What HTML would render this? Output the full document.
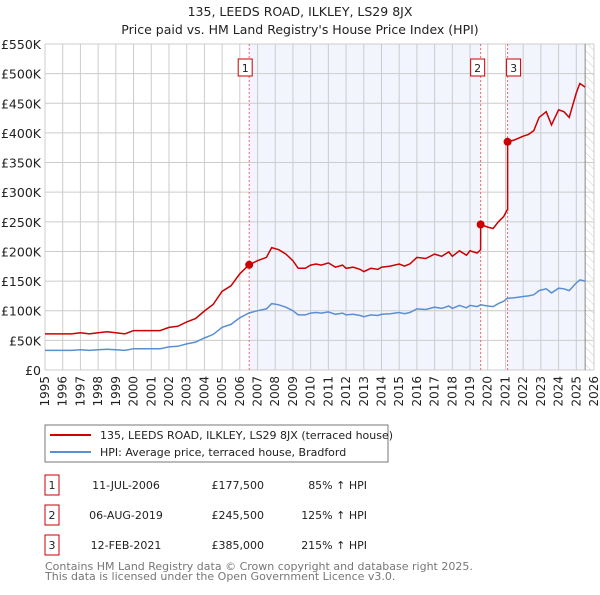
<!DOCTYPE html>
<html><head><meta charset="utf-8"><style>
body{margin:0;background:#fff;font-family:"Liberation Sans",sans-serif;}
svg text{font-family:"DejaVu Sans","Liberation Sans",sans-serif;}
</style></head><body>
<svg id="c" width="600" height="590" xmlns="http://www.w3.org/2000/svg">
<defs><pattern id="hatch" width="6" height="6" patternUnits="userSpaceOnUse" patternTransform="rotate(-45)"><line x1="0" y1="0" x2="0" y2="6" stroke="#ccc" stroke-width="1"/></pattern></defs>
<text x="300" y="16" text-anchor="middle" font-size="12.5" fill="#222">135, LEEDS ROAD, ILKLEY, LS29 8JX</text>
<text x="300" y="34" text-anchor="middle" font-size="12.5" fill="#222">Price paid vs. HM Land Registry's House Price Index (HPI)</text>
<g id="plot"></g>
<rect x="45" y="425" width="343" height="37" fill="#fff" stroke="#777"/>
<line x1="50" y1="435" x2="91" y2="435" stroke="#cc0000" stroke-width="2"/>
<text x="100" y="439" font-size="11" fill="#222">135, LEEDS ROAD, ILKLEY, LS29 8JX (terraced house)</text>
<line x1="50" y1="452" x2="91" y2="452" stroke="#5b8fd4" stroke-width="2"/>
<text x="100" y="456" font-size="11" fill="#222">HPI: Average price, terraced house, Bradford</text>
<g id="table" font-size="11" fill="#222"></g>
<text x="45" y="570" font-size="11" fill="#777">Contains HM Land Registry data © Crown copyright and database right 2025.</text>
<text x="45" y="580" font-size="11" fill="#777">This data is licensed under the Open Government Licence v3.0.</text>
</svg>
<script>
const years=[1995,1996,1997,1998,1999,2000,2001,2002,2003,2004,2005,2006,2007,2008,2009,2010,2011,2012,2013,2014,2015,2016,2017,2018,2019,2020,2021,2022,2023,2024,2025,2026];
const yTicks=[0,50,100,150,200,250,300,350,400,450,500,550];
const yTickLabels=["£0","£50K","£100K","£150K","£200K","£250K","£300K","£350K","£400K","£450K","£500K","£550K"];
const hpiDates=[1995,1995.5,1996,1996.5,1997,1997.5,1998,1998.5,1999,1999.5,
2000,2000.5,2001,2001.5,2002,2002.5,2003,2003.5,2004,2004.5,
2005,2005.5,2006,2006.5,2007,2007.5,2007.8,2008.2,2008.6,2009,
2009.3,2009.7,2010,2010.3,2010.6,2011,2011.4,2011.8,2012,2012.4,
2012.8,2013,2013.4,2013.8,2014,2014.5,2015,2015.3,2015.6,2016,
2016.5,2017,2017.4,2017.8,2018,2018.4,2018.8,2019,2019.4,2019.6,
2020,2020.3,2020.6,2020.9,2021.1,2021.5,2022,2022.3,2022.6,2022.9,
2023.3,2023.6,2024,2024.3,2024.6,2025,2025.2,2025.35,2025.5];
const hpiValues=[33,33,33,33,34,33,34,35,34,33,
36,36,36,36,39,40,44,47,54,60,
72,77,88,96,100,103,112,110,106,100,
93,93,96,97,96,98,94,96,93,94,
92,90,93,92,94,95,97,95,97,103,
102,106,104,108,104,109,105,109,107,110,
108,107,112,116,121,122,124,125,127,134,
137,130,138,137,134,147,152,151,150];
const saleDates=[2006.53,2019.6,2021.12];
const salePrices=[177.5,245.5,385];
const saleLabels=["1","2","3"];
const saleDateText=["11-JUL-2006","06-AUG-2019","12-FEB-2021"];
const salePriceText=["£177,500","£245,500","£385,000"];
const saleHpiText=["85% ↑ HPI","125% ↑ HPI","215% ↑ HPI"];

const NS="http://www.w3.org/2000/svg";
const X0=45,X1=594,Y0=370,Y1=44,endDate=2025.5;
const xs=d=>X0+(d-1995)/(2026-1995)*(X1-X0);
const ys=v=>Y0-v/550*(Y0-Y1);
const plot=document.getElementById('plot');
function mk(tag,attrs,parent){const e=document.createElementNS(NS,tag);for(const k in attrs)e.setAttribute(k,attrs[k]);(parent||plot).appendChild(e);return e;}
function hpiAt(d){for(let i=1;i<hpiDates.length;i++){if(d<=hpiDates[i]){const t=(d-hpiDates[i-1])/(hpiDates[i]-hpiDates[i-1]);return hpiValues[i-1]+t*(hpiValues[i]-hpiValues[i-1]);}}return hpiValues[hpiValues.length-1];}

let r=mk('rect',{x:xs(saleDates[0]),y:Y1,width:xs(saleDates[1])-xs(saleDates[0]),height:Y0-Y1,fill:'#f2f5fd'});


r=mk('rect',{x:xs(saleDates[2]),y:Y1,width:xs(endDate)-xs(saleDates[2]),height:Y0-Y1,fill:'#f2f5fd'});


r=mk('rect',{x:xs(endDate),y:Y1,width:X1-xs(endDate),height:Y0-Y1,fill:'url(#hatch)'});


years.forEach(y=>{const l=mk('line',{x1:xs(y),x2:xs(y),y1:Y1,y2:Y0,stroke:'#ccc'});


const t=mk('text',{x:0,y:0,'font-size':12,fill:'#222','text-anchor':'end',transform:`translate(${xs(y)+4},${Y0+6}) rotate(-90)`});t.textContent=y;

});
yTicks.forEach((v,i)=>{const l=mk('line',{x1:X0,x2:X1,y1:ys(v),y2:ys(v),stroke:'#ccc'});


const t=mk('text',{x:X0-4,y:ys(v)+5,'font-size':12.5,fill:'#222','text-anchor':'end'});t.textContent=yTickLabels[i];

});
let el=mk('line',{x1:xs(endDate),x2:xs(endDate),y1:Y1,y2:Y0,stroke:'#888'});


const boxOff=[-11,-10,-1];
saleDates.forEach((d,i)=>{const l=mk('line',{x1:xs(d),x2:xs(d),y1:Y1,y2:Y0,stroke:'#e66',"stroke-dasharray":"2,2"});


const b=mk('rect',{x:xs(d)+boxOff[i],y:59,width:14,height:17,fill:'#fff',stroke:'#cc0000'});


const t=mk('text',{x:xs(d)+boxOff[i]+7,y:72,'font-size':11,fill:'#222','text-anchor':'middle'});t.textContent=saleLabels[i];

});
const ratios=saleDates.map((d,i)=>salePrices[i]/hpiAt(d));
function ratioAt(d){let r=ratios[0];for(let i=1;i<saleDates.length;i++)if(d>=saleDates[i])r=ratios[i];return r;}
let hp='',rp='';
const pts=[];hpiDates.forEach((d,i)=>pts.push([d,hpiValues[i]]));saleDates.forEach(d=>{pts.push([d-0.001,hpiAt(d-0.001)]);pts.push([d,hpiAt(d)]);});
pts.sort((a,b)=>a[0]-b[0]);
hpiDates.forEach((d,i)=>{hp+=(i?'L':'M')+xs(d).toFixed(1)+','+ys(hpiValues[i]).toFixed(1);});
pts.forEach((p,i)=>{const rr=ratioAt(p[0]);rp+=(i?'L':'M')+xs(p[0]).toFixed(1)+','+ys(p[1]*rr).toFixed(1);});
let p=mk('path',{d:hp,fill:'none',stroke:'#5b8fd4','stroke-width':1.5});


p=mk('path',{d:rp,fill:'none',stroke:'#cc0000','stroke-width':1.5});


saleDates.forEach((d,i)=>{const c=mk('circle',{cx:xs(d),cy:ys(salePrices[i]),r:4,fill:'#cc0000'});

});
const tb=document.getElementById('table');
saleDates.forEach((d,i)=>{const y=475+i*30;
const b=mk('rect',{x:45,y:y,width:14,height:20,fill:'#fff',stroke:'#cc0000'},tb);


const cells=[[52,saleLabels[i],'middle'],[126,saleDateText[i],'middle'],[264,salePriceText[i],'end'],[367,saleHpiText[i],'end']];
cells.forEach(c=>{const t=mk('text',{x:c[0],y:y+14,'text-anchor':c[2]},tb);t.textContent=c[1];

});});
</script>
</body></html>
